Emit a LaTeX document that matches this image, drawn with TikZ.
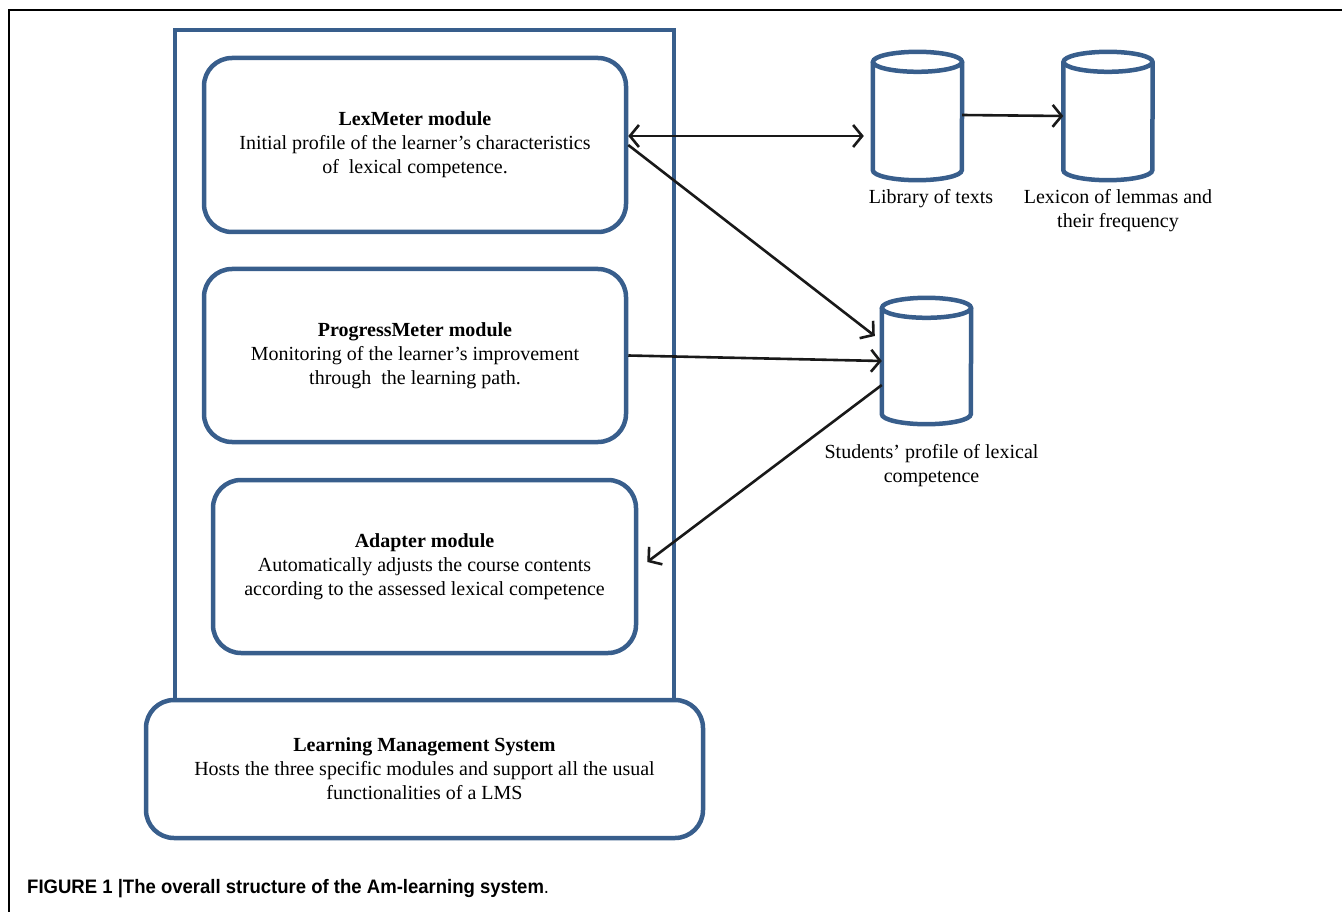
\documentclass[tikz,border=0pt]{standalone}
\usepackage{fontspec}
\setmainfont{Liberation Serif}
\newfontfamily\capfont{Liberation Sans}
\usetikzlibrary{arrows.meta,calc}
\definecolor{boxblue}{RGB}{56,94,140}
\newcommand\drawcyl[1]{%
  \draw[cylline] ($(#1.north west)+(0,-10)$) -- ($(#1.south west)+(0,10)$)
    arc[start angle=180,end angle=360,x radius=44.5,y radius=10]
    -- ($(#1.north east)+(0,-10)$);
  \draw[cylline] ($(#1.north)+(0,-10)$) ellipse[x radius=44.5,y radius=10];
}
\begin{document}
\begin{tikzpicture}[x=1pt,y=1pt,
  modbox/.style={draw=boxblue,line width=4.5pt,rounded corners=28pt,fill=white,
    align=center,inner sep=0pt,font=\fontsize{20}{24}\selectfont},
  cylspace/.style={inner sep=0pt,minimum width=89pt},
  cylline/.style={draw=boxblue,line width=4.5pt},
  lbl/.style={align=center,font=\fontsize{20}{24}\selectfont,inner sep=0pt},
  tip/.tip={Straight Barb[length=9pt,width=22pt,line width=2.6pt]},
  arr/.style={draw=black!90,line width=2.6pt,-tip},
  darr/.style={draw=black!90,line width=2.6pt,tip-tip}
]
\useasboundingbox (0,0) rectangle (1342,-912);
\draw[line width=1.3pt] (9,-912) -- (9,-10) -- (1342,-10);
% container
\draw[draw=boxblue,line width=4.5pt] (175,-700) -- (175,-30) -- (674,-30) -- (674,-700);
\node[modbox,minimum width=422pt,minimum height=174pt] (lexm) at (415,-145)
  {\textbf{LexMeter module}\\Initial profile of the learner’s characteristics\\of\ \ lexical competence.};
\node[modbox,minimum width=422pt,minimum height=173pt] (prog) at (415,-355.5)
  {\textbf{ProgressMeter module}\\Monitoring of the learner’s improvement\\through\ \ the learning path.};
\node[modbox,minimum width=423pt,minimum height=173pt] (adap) at (424.5,-566.5)
  {\textbf{Adapter module}\\Automatically adjusts the course contents\\according to the assessed lexical competence};
\node[modbox,minimum width=557pt,minimum height=138pt] (lms) at (424.5,-769)
  {\textbf{Learning Management System}\\Hosts the three specific modules and support all the usual\\functionalities of a LMS};
% cylinders
\node[cylspace,minimum height=128pt] (lib) at (917.5,-116) {};
\node[cylspace,minimum height=128pt] (lexc) at (1108,-116) {};
\node[cylspace,minimum height=126pt] (stu) at (926.5,-361) {};
\drawcyl{lib}
\drawcyl{lexc}
\drawcyl{stu}
\node[lbl,anchor=north] (libl) at (931,-189) {Library of texts};
\node[lbl,anchor=north] (lexl) at (1118,-189) {Lexicon of lemmas and\\their frequency};
\node[lbl,anchor=north] (stul) at (931.5,-444) {Students’ profile of lexical\\competence};
% arrows
\draw[darr] ($(lexm.east)+(0,9)$) -- ($(lib.west)+(-9,-20)$);
\draw[arr] ($(lib.east)+(0,1)$) -- (lexc.west);
\draw[arr] (lexm.east) -- ($(stu.west)+(-7,25)$);
\draw[arr] (prog.east) -- (stu.west);
\draw[arr] ($(stu.west)+(0,-24)$) -- ($(adap.east)+(9,4.5)$);
% caption
\node[anchor=west,inner sep=0pt] (cap) at (27,-889)
  {\capfont\fontsize{19.5}{22}\selectfont\scalebox{0.95}[1]{\textbf{FIGURE 1 |The overall structure of the Am-learning system}.}};
\end{tikzpicture}
\end{document}
